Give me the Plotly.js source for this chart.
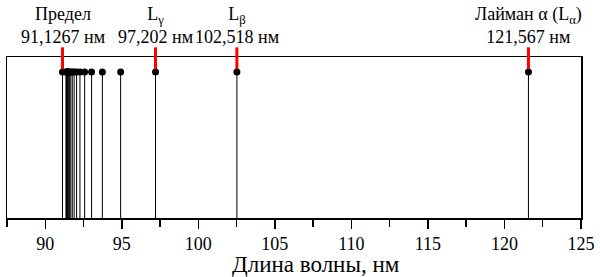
<!DOCTYPE html>
<html><head><meta charset="utf-8">
<script src="https://cdn.plot.ly/plotly-3.0.1.min.js"></script>
<style>html,body{margin:0;padding:0;background:#fff}#chart{width:600px;height:277px}</style>
</head><body><div id="chart"></div>
<script>
// Lyman series wavelengths (nm)
const lineWavelengths = [121.567, 102.518, 97.202, 94.924, 93.730, 93.025, 92.573, 92.266, 92.047, 91.886, 91.764, 91.669, 91.594, 91.533, 91.484, 91.443, 91.409, 91.380, 91.355, 91.1267];
const lineHeight = 0.907;
// Labelled lines
const labelX = [91.1267, 97.202, 102.518, 121.567];
const labelText = ["Предел<br>91,1267 нм", "L<sub>γ</sub><br>97,202 нм", "L<sub>β</sub><br>102,518 нм", "Лайман α (L<sub>α</sub>)<br>121,567 нм"];
const xTicks = [90, 95, 100, 105, 110, 115, 120, 125];
const xTitle = 'Длина волны, нм';

const font = '"Times New Roman", "Liberation Serif", serif';
const traces = [];
lineWavelengths.forEach(w => {
  traces.push({x:[w,w], y:[0,lineHeight], mode:'lines', line:{color:'#000', width:1}, hoverinfo:'skip', showlegend:false});
});
traces.push({x:lineWavelengths, y:lineWavelengths.map(()=>lineHeight), mode:'markers', marker:{color:'#000', size:7}, showlegend:false, cliponaxis:false});

const shapes = labelX.map(w => ({type:'line', xref:'x', yref:'paper', x0:w, x1:w, y0:0.925, y1:1.06, line:{color:'#ff0000', width:3}}));
const annotations = labelX.map((w,i) => ({x:w, y:1.052, xref:'x', yref:'paper', text:labelText[i], showarrow:false, yanchor:'bottom', xanchor:'center', font:{family:font, size:18, color:'#000'}}));
annotations.push({x:0.538, y:-0.29, xref:'paper', yref:'paper', text:xTitle, showarrow:false, xanchor:'center', yanchor:'middle', font:{family:font, size:23, color:'#000'}});

const layout = {
  width:600, height:277,
  margin:{l:7, r:19, t:57, b:59},
  paper_bgcolor:'#fff', plot_bgcolor:'#fff',
  showlegend:false,
  font:{family:font, color:'#000'},
  xaxis:{range:[87.5,125], tickvals:xTicks, ticktext:xTicks.map(String), ticks:'outside', ticklen:9, tickcolor:'#000', tickwidth:1.5,
    minor:{dtick:2.5, tick0:87.5, ticks:'outside', ticklen:7, tickcolor:'#000', tickwidth:1.5, showgrid:false},
    showgrid:false, zeroline:false, showline:true, linecolor:'#000', linewidth:1.5, mirror:true,
    tickfont:{family:font, size:18, color:'#000'}},
  yaxis:{range:[0,1], showticklabels:false, ticks:'', showgrid:false, zeroline:false, showline:true, linecolor:'#000', linewidth:1.5, mirror:true, fixedrange:true},
  shapes:shapes, annotations:annotations
};
Plotly.newPlot('chart', traces, layout, {displayModeBar:false, staticPlot:true});
</script></body></html>
